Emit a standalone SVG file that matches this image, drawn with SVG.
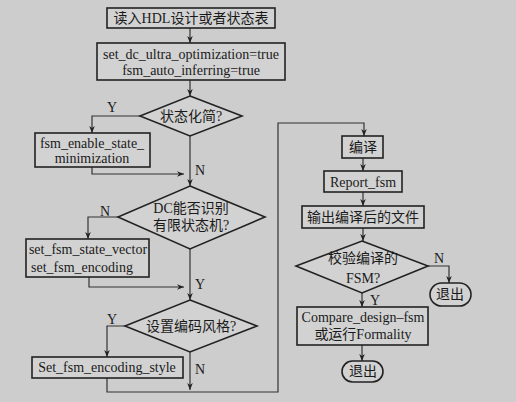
<svg xmlns="http://www.w3.org/2000/svg" width="516" height="402" viewBox="0 0 516 402">
<defs>
<marker id="ah" viewBox="0 0 10 10" refX="10" refY="5" markerWidth="7" markerHeight="7" orient="auto" markerUnits="userSpaceOnUse">
<path d="M0,1 L10,5 L0,9 L3,5 Z" fill="#222"/>
</marker>
<style>
.b{fill:#d2d2d2;stroke:#222;stroke-width:1.6}
.l{fill:none;stroke:#333;stroke-width:1.2}
.t{font-family:"Liberation Serif","Noto Sans CJK SC",serif;font-size:14px;fill:#1a1a1a;text-anchor:middle}
.lb{font-family:"Liberation Serif",serif;font-size:14px;fill:#1a1a1a}
</style>
</defs>
<rect width="516" height="402" fill="#cdcdcd"/>
<g id="connectors">
<path class="l" d="M190,28 V43" marker-end="url(#ah)"/>
<path class="l" d="M190,80 V96" marker-end="url(#ah)"/>
<path class="l" d="M140,116 H92 V133" marker-end="url(#ah)"/>
<path class="l" d="M190,136 V186" marker-end="url(#ah)"/>
<path class="l" d="M92,167 V174 H184" marker-end="url(#ah)"/>
<path class="l" d="M118,217 H88 V239" marker-end="url(#ah)"/>
<path class="l" d="M190,249 V300" marker-end="url(#ah)"/>
<path class="l" d="M89,277 V287 H184" marker-end="url(#ah)"/>
<path class="l" d="M125,326 H107 V357" marker-end="url(#ah)"/>
<path class="l" d="M190,352 V390" marker-end="url(#ah)"/>
<path class="l" d="M107,378 V392 H278 V123 H364 V136" marker-end="url(#ah)"/>
<path class="l" d="M363,158 V171" marker-end="url(#ah)"/>
<path class="l" d="M363,192 V206" marker-end="url(#ah)"/>
<path class="l" d="M363,228 V241" marker-end="url(#ah)"/>
<path class="l" d="M428,266 H449 V283" marker-end="url(#ah)"/>
<path class="l" d="M362,293 V307" marker-end="url(#ah)"/>
<path class="l" d="M362,345 V361" marker-end="url(#ah)"/>
<text class="lb" x="107" y="112">Y</text>
<text class="lb" x="195" y="175">N</text>
<text class="lb" x="100" y="216">N</text>
<text class="lb" x="195" y="289">Y</text>
<text class="lb" x="107" y="324">Y</text>
<text class="lb" x="195" y="374">N</text>
<text class="lb" x="434" y="263">N</text>
<text class="lb" x="370" y="305">Y</text>
</g>
<g id="n1"><rect class="b" x="107" y="8" width="168" height="20"/><text class="t" x="191" y="23">读入HDL设计或者状态表</text></g>
<g id="n2"><rect class="b" x="97" y="43" width="188" height="37"/><text class="t" x="191" y="59">set_dc_ultra_optimization=true</text><text class="t" x="191" y="75">fsm_auto_inferring=true</text></g>
<g id="d1"><polygon class="b" points="190,96 242,116 190,136 140,116"/><text class="t" x="191" y="121">状态化简?</text></g>
<g id="n3"><rect class="b" x="35" y="133" width="115" height="34"/><text class="t" x="92" y="148">fsm_enable_state_</text><text class="t" x="92" y="163">minimization</text></g>
<g id="d2"><polygon class="b" points="190,186 265,217 190,249 118,217"/><text class="t" x="191" y="213">DC能否识别</text><text class="t" x="191" y="230">有限状态机?</text></g>
<g id="n4"><rect class="b" x="26" y="239" width="123" height="38"/><text class="t" x="88" y="254">set_fsm_state_vector</text><text class="t" x="82" y="272">set_fsm_encoding</text></g>
<g id="d3"><polygon class="b" points="190,300 257,326 190,352 125,326"/><text class="t" x="191" y="331">设置编码风格?</text></g>
<g id="n5"><rect class="b" x="32" y="357" width="151" height="21"/><text class="t" x="107" y="372">Set_fsm_encoding_style</text></g>
<g id="n6"><rect class="b" x="342" y="136" width="41" height="22"/><text class="t" x="363" y="152">编译</text></g>
<g id="n7"><rect class="b" x="324" y="171" width="78" height="21"/><text class="t" x="363" y="187">Report_fsm</text></g>
<g id="n8"><rect class="b" x="302" y="206" width="122" height="22"/><text class="t" x="363" y="222">输出编译后的文件</text></g>
<g id="d4"><polygon class="b" points="362,241 428,266 362,293 296,266"/><text class="t" x="363" y="263">校验编译的</text><text class="t" x="363" y="283">FSM?</text></g>
<g id="e1"><rect class="b" x="430" y="283" width="41" height="23" rx="11.5"/><text class="t" x="450" y="299">退出</text></g>
<g id="n9"><rect class="b" x="297" y="307" width="131" height="38"/><text class="t" x="363" y="322">Compare_design–fsm</text><text class="t" x="363" y="339">或运行Formality</text></g>
<g id="e2"><rect class="b" x="342" y="361" width="41" height="21" rx="10.5"/><text class="t" x="363" y="376">退出</text></g>
</svg>
